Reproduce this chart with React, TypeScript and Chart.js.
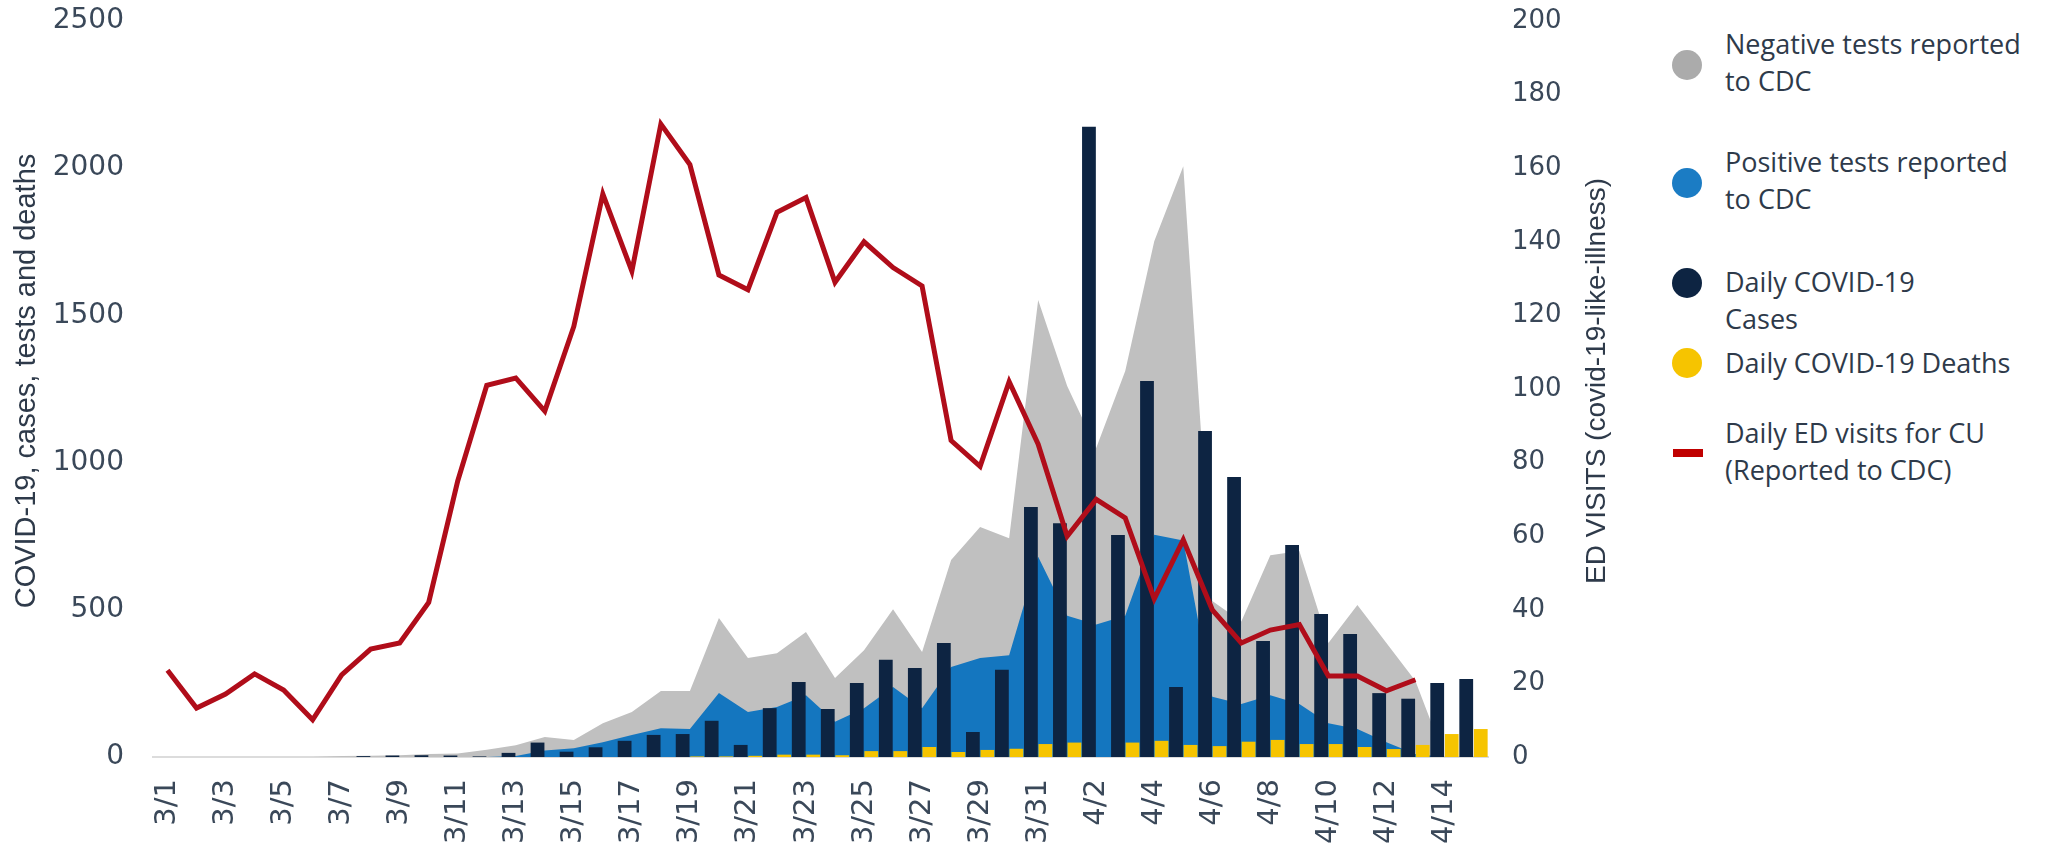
import React, { useEffect, useRef } from "react";
import { Chart, registerables } from "chart.js";

Chart.register(...registerables);

const labels = [
  "3/1", "3/2", "3/3", "3/4", "3/5", "3/6", "3/7", "3/8", "3/9", "3/10",
  "3/11", "3/12", "3/13", "3/14", "3/15", "3/16", "3/17", "3/18", "3/19", "3/20",
  "3/21", "3/22", "3/23", "3/24", "3/25", "3/26", "3/27", "3/28", "3/29", "3/30",
  "3/31", "4/1", "4/2", "4/3", "4/4", "4/5", "4/6", "4/7", "4/8", "4/9",
  "4/10", "4/11", "4/12", "4/13", "4/14", "4/15",
];

const negativeTests = [
  0, 0, 0, 0, 0, 0, 3, 4, 6, 10,
  12, 25, 40, 68, 58, 115, 153, 224, 224, 472,
  336, 352, 425, 268, 363, 502, 357, 669, 781, 743,
  1552, 1260, 1050, 1311, 1752, 2007, 530, 460, 685, 700,
  387, 516, 387, 258, 0, null,
];

const positiveTests = [
  0, 0, 0, 0, 0, 0, 0, 0, 0, 0,
  0, 0, 3, 22, 30, 50, 75, 98, 95, 217,
  153, 170, 210, 120, 166, 238, 166, 306, 336, 346,
  680, 480, 450, 480, 755, 735, 205, 180, 210, 180,
  115, 95, 50, 10, 0, null,
];

const dailyCases = [
  0, 0, 0, 0, 0, 0, 0, 3, 5, 6,
  5, 2, 14, 49, 18, 33, 55, 75, 78, 123,
  41, 166, 255, 163, 251, 330, 302, 387, 85, 296,
  849, 794, 2141, 754, 1277, 238, 1107, 951, 394, 720,
  486, 418, 217, 198, 251, 265,
];

const dailyDeaths = [
  0, 0, 0, 0, 0, 0, 0, 0, 0, 0,
  0, 0, 0, 0, 0, 0, 0, 0, 2, 2,
  4, 8, 8, 6, 20, 20, 34, 17, 24, 28,
  44, 49, 0, 49, 55, 41, 37, 52, 58, 44,
  44, 34, 27, 41, 78, 95,
];

const edVisits = [
  23.6, 13.3, 17.1, 22.6, 18.2, 10.1, 22.3, 29.3, 31, 42,
  75, 101, 103, 94, 117, 153, 132, 172, 161, 131,
  127, 148, 152, 129, 140, 133, 128, 86, 79, 102,
  85, 60, 70, 65, 43, 59, 40, 31, 34.5, 36,
  22, 22, 18, 21, null, null,
];

const leftTitle = "COVID-19, cases, tests and deaths";
const rightTitle = "ED VISITS (covid-19-like-illness)";

const legendItems = [
  { lines: ["Negative tests reported", "to CDC"], color: "#ababab", kind: "dot" },
  { lines: ["Positive tests reported", "to CDC"], color: "#1b7cc4", kind: "dot" },
  { lines: ["Daily COVID-19", "Cases"], color: "#0d2442", kind: "dot" },
  { lines: ["Daily COVID-19 Deaths"], color: "#f6c400", kind: "dot" },
  { lines: ["Daily ED visits for CU", "(Reported to CDC)"], color: "#c00000", kind: "dash" },
];

// layout of legend (px): marker centre y and first text line centre y
const legendLayout = [
  { markerY: 65, textY: 43 },
  { markerY: 183, textY: 161 },
  { markerY: 283, textY: 281 },
  { markerY: 363, textY: 362 },
  { markerY: 453, textY: 432 },
];

const TEXT = "#2e3a4a";
const TICK = "#3a4859";

const axisTitles = {
  id: "axisTitles",
  afterDraw(chart: any) {
    const ctx = chart.ctx;
    const ca = chart.chartArea;
    const midY = (ca.top + ca.bottom) / 2 - 8;
    ctx.save();
    ctx.fillStyle = TEXT;
    ctx.textAlign = "center";
    ctx.textBaseline = "middle";
    ctx.font = '29px "Liberation Sans", Arial, sans-serif';
    ctx.translate(27, midY);
    ctx.rotate(-Math.PI / 2);
    ctx.fillText(leftTitle, 0, 0);
    ctx.restore();
    ctx.save();
    ctx.fillStyle = TEXT;
    ctx.textAlign = "center";
    ctx.textBaseline = "middle";
    ctx.font = '28px "Liberation Sans", Arial, sans-serif';
    ctx.translate(1597, midY);
    ctx.rotate(-Math.PI / 2);
    ctx.fillText(rightTitle, 0, 0);
    ctx.restore();
  },
};

export default function App() {
  const ref = useRef<HTMLCanvasElement>(null);

  useEffect(() => {
    if (!ref.current) return;
    const chart = new Chart(ref.current, {
      type: "bar",
      data: {
        labels,
        datasets: [
          {
            type: "line",
            label: "Daily ED visits for CU (Reported to CDC)",
            data: edVisits,
            yAxisID: "y2",
            borderColor: "#b00d1a",
            borderWidth: 5,
            pointRadius: 0,
            fill: false,
            tension: 0,
            order: 0,
          } as any,
          {
            type: "bar",
            label: "Daily COVID-19 Cases",
            data: dailyCases,
            yAxisID: "y",
            backgroundColor: "#0d2442",
            categoryPercentage: 1.0,
            barPercentage: 0.95,
            order: 1,
          },
          {
            type: "bar",
            label: "Daily COVID-19 Deaths",
            data: dailyDeaths,
            yAxisID: "y",
            backgroundColor: "#f6c400",
            categoryPercentage: 1.0,
            barPercentage: 0.95,
            order: 2,
          },
          {
            type: "line",
            label: "Positive tests reported to CDC",
            data: positiveTests,
            yAxisID: "y",
            backgroundColor: "#1476bf",
            borderWidth: 0,
            pointRadius: 0,
            fill: "origin",
            tension: 0,
            order: 3,
          } as any,
          {
            type: "line",
            label: "Negative tests reported to CDC",
            data: negativeTests,
            yAxisID: "y",
            backgroundColor: "#c0c0c0",
            borderWidth: 0,
            pointRadius: 0,
            fill: "origin",
            tension: 0,
            order: 4,
          } as any,
        ],
      },
      options: {
        animation: false,
        responsive: false,
        devicePixelRatio: 1,
        layout: { padding: { left: 53, right: 92, top: 21, bottom: 0 } },
        plugins: {
          legend: { display: false },
          tooltip: { enabled: false },
        },
        scales: {
          x: {
            offset: true,
            grid: { display: false, drawTicks: false },
            border: { display: true, color: "#dcdcdc", width: 2 },
            ticks: {
              autoSkip: false,
              maxRotation: 90,
              minRotation: 90,
              padding: 22,
              color: TICK,
              font: { family: '"DejaVu Sans"', size: 29 },
              callback: (_v: any, i: number) => (i % 2 === 0 ? labels[i] : ""),
            },
            afterFit: (s: any) => {
              s.height = 91;
            },
          },
          y: {
            position: "left",
            min: 0,
            max: 2500,
            grid: { display: false, drawTicks: false },
            border: { display: false },
            ticks: {
              stepSize: 500,
              padding: 29,
              color: TICK,
              font: { family: '"DejaVu Sans"', size: 28 },
              callback: (v: any) => String(v),
            },
            afterFit: (s: any) => {
              s.width = 100;
              s.paddingTop = 0;
              s.paddingBottom = 0;
            },
          },
          y2: {
            position: "right",
            min: 0,
            max: 200,
            grid: { display: false, drawTicks: false },
            border: { display: false },
            ticks: {
              stepSize: 20,
              padding: 24,
              color: TICK,
              font: { family: '"DejaVu Sans"', size: 26 },
              callback: (v: any) => String(v),
            },
            afterFit: (s: any) => {
              s.width = 80;
              s.paddingTop = 0;
              s.paddingBottom = 0;
            },
          },
        },
      },
      plugins: [axisTitles],
    });
    return () => chart.destroy();
  }, []);

  return (
    <div
      style={{
        position: "fixed",
        left: 0,
        top: 0,
        width: 2051,
        height: 848,
        background: "#ffffff",
        overflow: "hidden",
      }}
    >
      <canvas
        ref={ref}
        width={1660}
        height={848}
        style={{ position: "absolute", left: 0, top: 0, width: 1660, height: 848 }}
      />
      {legendItems.map((item, i) => {
        const lay = legendLayout[i];
        return (
          <React.Fragment key={i}>
            {item.kind === "dot" ? (
              <div
                style={{
                  position: "absolute",
                  left: 1687 - 15,
                  top: lay.markerY - 15,
                  width: 30,
                  height: 30,
                  borderRadius: "50%",
                  background: item.color,
                }}
              />
            ) : (
              <div
                style={{
                  position: "absolute",
                  left: 1673,
                  top: lay.markerY - 4,
                  width: 30,
                  height: 8,
                  background: item.color,
                }}
              />
            )}
            <div
              style={{
                position: "absolute",
                left: 1725,
                top: lay.textY - 18.5,
                fontFamily: '"Open Sans", sans-serif',
                fontSize: 27,
                lineHeight: "37px",
                color: TEXT,
                whiteSpace: "nowrap",
              }}
            >
              {item.lines.map((l, j) => (
                <div key={j}>{l}</div>
              ))}
            </div>
          </React.Fragment>
        );
      })}
    </div>
  );
}
